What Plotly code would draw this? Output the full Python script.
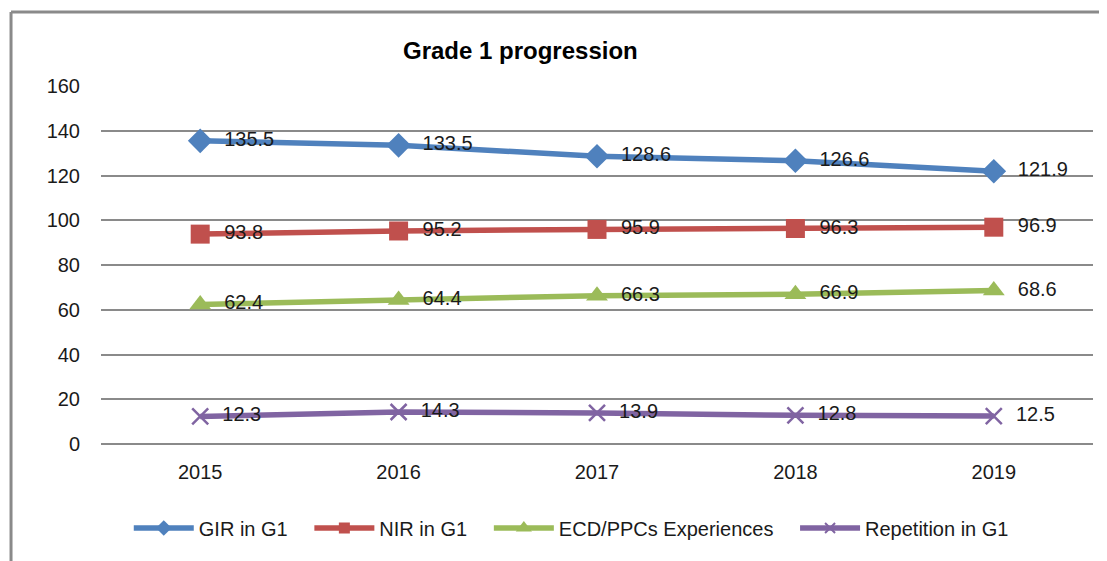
import plotly.graph_objects as go

years = ["2015", "2016", "2017", "2018", "2019"]
gir = [135.5, 133.5, 128.6, 126.6, 121.9]
nir = [93.8, 95.2, 95.9, 96.3, 96.9]
ecd = [62.4, 64.4, 66.3, 66.9, 68.6]
rep = [12.3, 14.3, 13.9, 12.8, 12.5]

series_names = ["GIR in G1", "NIR in G1", "ECD/PPCs Experiences", "Repetition in G1"]
colors = ["#4F81BD", "#C0504D", "#9BBB59", "#8064A2"]
symbols = ["diamond", "square", "triangle-up", "x-thin"]
sizes = [19, 19, 19, 16]
legend_sizes = [12, 11, 14, 10]

FONT = "Liberation Sans, Arial, sans-serif"
NB = "\u00a0"

fig = go.Figure()
for name, vals, c, s, sz in zip(series_names, [gir, nir, ecd, rep], colors, symbols, sizes):
    marker = dict(symbol=s, size=sz, color=c)
    if s == "x-thin":
        marker["line"] = dict(color=c, width=2.5)
    fig.add_trace(go.Scatter(
        x=years, y=vals, name=name, mode="lines+markers+text",
        line=dict(color=c, width=5.5),
        marker=marker,
        text=[NB * 2 + f"{v:.1f}" for v in vals],
        textposition="middle right",
        textfont=dict(family=FONT, size=20, color="#1a1a1a"),
        cliponaxis=False, showlegend=False,
    ))

# legend-only entries (smaller markers as in the reference legend)
for name, c, s, lsz in zip(series_names, colors, symbols, legend_sizes):
    marker = dict(symbol=s, size=lsz, color=c)
    if s == "x-thin":
        marker["line"] = dict(color=c, width=2)
    fig.add_trace(go.Scatter(
        x=[None], y=[None], name=name + NB * 3, mode="lines+markers",
        line=dict(color=c, width=5.5), marker=marker, showlegend=True,
    ))

fig.update_layout(
    width=1107, height=561,
    paper_bgcolor="white", plot_bgcolor="white",
    margin=dict(l=93, r=22, t=78, b=125, autoexpand=False),
    font=dict(family=FONT, size=20, color="#1a1a1a"),
    showlegend=True,
    legend=dict(orientation="h", x=0.028, xanchor="left", y=-0.2346, yanchor="middle",
                font=dict(family=FONT, size=20, color="#1a1a1a"),
                itemwidth=60, itemsizing="trace", tracegroupgap=0, bgcolor="rgba(0,0,0,0)"),
    xaxis=dict(type="category", range=[-0.5, 4.5], showgrid=False, showline=False, ticks="",
               ticklabelstandoff=14,
               tickfont=dict(family=FONT, size=20, color="#1a1a1a")),
    yaxis=dict(range=[0, 160], dtick=20, showgrid=True, gridcolor="#8a8a8a", gridwidth=2,
               zeroline=True, zerolinecolor="#8a8a8a", zerolinewidth=2,
               showline=False, ticks="", ticklabelstandoff=20,
               tickfont=dict(family=FONT, size=20, color="#1a1a1a")),
    annotations=[dict(text="<b>Grade 1 progression</b>", xref="paper", yref="paper",
                      x=0.4224, y=1.0999, xanchor="center", yanchor="middle", showarrow=False,
                      font=dict(family=FONT, size=24, color="#000"))],
    shapes=[
        dict(type="line", xref="paper", yref="paper", x0=-0.0907, x1=1.03, y0=1.2067, y1=1.2067,
             line=dict(color="#8a8a8a", width=3)),
        dict(type="line", xref="paper", yref="paper", x0=-0.0907, x1=-0.0907, y0=1.2067, y1=-0.36,
             line=dict(color="#8a8a8a", width=3)),
    ],
)

fig.write_html("out.html")
